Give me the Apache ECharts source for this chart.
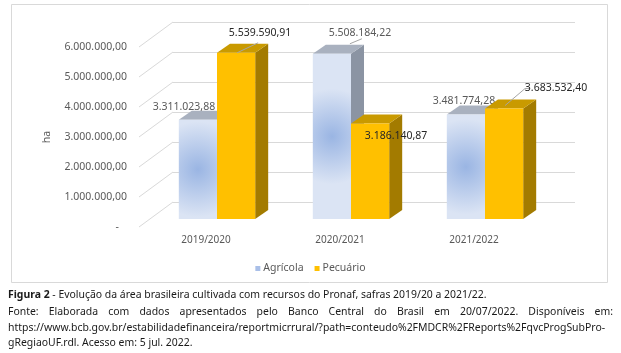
<!DOCTYPE html>
<html><head><meta charset="utf-8">
<script src="https://cdn.jsdelivr.net/npm/echarts@6/dist/echarts.min.js"></script>
<style>html,body{margin:0;padding:0;background:#fff}#c{width:621px;height:353px}</style>
</head><body><div id="c"></div>
<script>
// ---- data ----
const categories = ['2019/2020', '2020/2021', '2021/2022'];
const agricola = [3311023.88, 5508184.22, 3481774.28];
const pecuario = [5539590.91, 3186140.87, 3683532.40];
const yTicks = [0, 1000000, 2000000, 3000000, 4000000, 5000000, 6000000];
const seriesNames = ['Agrícola', 'Pecuário'];
const yAxisName = 'ha';
const captionBold = 'Figura 2';
const captionLine1 = ' - Evolução da área brasileira cultivada com recursos do Pronaf, safras 2019/20 a 2021/22.';
const captionLine2 = 'Fonte: Elaborada com dados apresentados pelo Banco Central do Brasil em 20/07/2022. Disponíveis em:';
const captionLine3 = 'https://www.bcb.gov.br/estabilidadefinanceira/reportmicrrural/?path=conteudo%2FMDCR%2FReports%2FqvcProgSubPro-';
const captionLine4 = 'gRegiaoUF.rdl. Acesso em: 5 jul. 2022.';

// ---- layout (not data) ----
const FONT = '"Noto Sans", sans-serif';
const WALL = [34, -25];      // depth vector of the whole plot box
const FRONT = [11, -8];      // bar front face offset
const DEPTH = [13, -9];      // bar depth
const BAR_RATIO = 0.285;
// per series, per category label offsets relative to bar front-top centre
const labelOff = [
  [[-14, -13], [28, -21], [-2, -14]],
  [[24, -20], [26, 13], [52, -20]]
];
// leader lines: null or [start offset from label centre, end offset from front-top centre]
const leaders = [
  [null, [[2, 6], [18, -10]], null],
  [[[-2, 10], [1, 0]], null, [[-31, 0], [1, -3]]]
];
const styles = [
  {legend: '#a9bfe8', top: '#a9b1bf', side: '#8b94a3', label: '#595959',
   front: {type: 'radial', x: 0.5, y: 0.5, r: 1.25, colorStops: [{offset: 0, color: '#9ab5e3'}, {offset: 1, color: '#dbe4f4'}]}},
  {legend: '#ffc000', top: '#c99a00', side: '#a37b00', label: '#262626', front: '#ffc000'}
];

function fmt(v) {
  const s = Math.abs(v).toFixed(2).split('.');
  return s[0].replace(/\B(?=(\d{3})+(?!\d))/g, '.') + ',' + s[1];
}

function barSeries(sIdx, values) {
  const st = styles[sIdx];
  return {
    type: 'custom', name: seriesNames[sIdx], xAxisIndex: 0, yAxisIndex: 0,
    itemStyle: {color: st.legend},
    data: values.map((v, i) => [i, v]),
    encode: {x: 0, y: 1},
    z: 3 + sIdx,
    renderItem(params, api) {
      const ci = api.value(0), v = api.value(1);
      const base = api.coord([ci, 0]), top = api.coord([ci, v]);
      const band = api.size([1, 0])[0];
      const w = band * BAR_RATIO;
      const x0 = base[0] + (sIdx === 0 ? -w : 0) + FRONT[0];
      const x1 = x0 + w;
      const yb = base[1] + FRONT[1], yt = top[1] + FRONT[1];
      const dx = DEPTH[0], dy = DEPTH[1];
      const children = [
        {type: 'polygon', shape: {points: [[x1, yt], [x1 + dx, yt + dy], [x1 + dx, yb + dy], [x1, yb]]}, style: {fill: st.side}},
        {type: 'polygon', shape: {points: [[x0, yt], [x1, yt], [x1 + dx, yt + dy], [x0 + dx, yt + dy]]}, style: {fill: st.top}},
        {type: 'rect', shape: {x: x0, y: yt, width: w, height: yb - yt}, style: {fill: st.front}}
      ];
      const cx = (x0 + x1) / 2;
      const off = labelOff[sIdx][ci];
      const lx = cx + off[0], ly = yt + off[1];
      const ld = leaders[sIdx][ci];
      if (ld) {
        const s = [lx + ld[0][0], ly + ld[0][1]], e = [cx + ld[1][0], yt + ld[1][1]];
        const pts = sIdx === 1 && ci === 2 ? [[s[0] + 5, s[1]], s, e] : [s, e];
        children.push({type: 'polyline', shape: {points: pts}, style: {stroke: '#a6a6a6', lineWidth: 1, fill: null}});
      }
      children.push({type: 'text', x: lx, y: ly, style: {text: fmt(v), fill: st.label, font: '10.5px ' + FONT, align: 'center', verticalAlign: 'middle'}});
      return {type: 'group', children};
    }
  };
}

const chart = echarts.init(document.getElementById('c'), null, {renderer: 'canvas'});

// caption measurement
const ctx = document.createElement('canvas').getContext('2d');
function tw(t, size, weight) { ctx.font = (weight || 'normal') + ' ' + size + 'px ' + FONT; return ctx.measureText(t).width; }
const capSize = Math.min(10.5, 10 * 479 / (tw(captionBold, 10, 'bold') + tw(captionLine1, 10)));
const capColor = '#1a1a1a';
const graphics = [
  {type: 'rect', shape: {x: 11.5, y: 4.5, width: 596, height: 278}, style: {fill: null, stroke: '#d9d9d9', lineWidth: 1}, z: -10, silent: true},
  {type: 'text', x: 8, y: 295, style: {text: '{b|' + captionBold + '}{n|' + captionLine1 + '}', verticalAlign: 'middle', rich: {b: {font: 'bold ' + capSize + 'px ' + FONT, fill: capColor}, n: {font: capSize + 'px ' + FONT, fill: capColor}}}}
];
// justified line 2
(function () {
  const words = captionLine2.split(' ');
  const widths = words.map(w => tw(w, capSize));
  const total = widths.reduce((a, b) => a + b, 0);
  const gap = (605 - total) / (words.length - 1);
  let x = 8;
  words.forEach((w, i) => {
    graphics.push({type: 'text', x: x, y: 312, style: {text: w, font: capSize + 'px ' + FONT, fill: capColor, verticalAlign: 'middle'}});
    x += widths[i] + gap;
  });
})();
graphics.push({type: 'text', x: 8, y: 328, style: {text: captionLine3, font: capSize + 'px ' + FONT, fill: capColor, verticalAlign: 'middle'}});
graphics.push({type: 'text', x: 8, y: 343, style: {text: captionLine4, font: capSize + 'px ' + FONT, fill: capColor, verticalAlign: 'middle'}});

const option = {
  animation: false,
  backgroundColor: '#ffffff',
  textStyle: {fontFamily: FONT},
  grid: [
    {left: 139, top: 47, width: 402, height: 180},
    {left: 139 + WALL[0], top: 47 + WALL[1], width: 402, height: 180}
  ],
  xAxis: [
    {type: 'category', gridIndex: 0, data: categories, axisLine: {show: false}, axisTick: {show: false},
     axisLabel: {margin: 8, fontSize: 10, color: '#595959', fontFamily: FONT}},
    {type: 'category', gridIndex: 1, data: categories, show: false}
  ],
  yAxis: [
    {type: 'value', gridIndex: 0, min: 0, max: 6000000, interval: 1000000,
     name: yAxisName, nameLocation: 'middle', nameGap: 86, nameRotate: 90,
     nameTextStyle: {fontSize: 10.5, color: '#595959', fontFamily: FONT},
     axisLine: {show: false}, axisTick: {show: false}, splitLine: {show: false},
     axisLabel: {margin: 12, fontSize: 10.5, color: '#595959', fontFamily: FONT,
       formatter: v => v === 0 ? '-   ' : fmt(v)}},
    {type: 'value', gridIndex: 1, min: 0, max: 6000000, interval: 1000000,
     axisLine: {show: false}, axisTick: {show: false}, axisLabel: {show: false},
     splitLine: {show: true, lineStyle: {color: '#d9d9d9', width: 1}}}
  ],
  legend: {data: seriesNames, top: 258, left: 'center', icon: 'rect', itemWidth: 5, itemHeight: 5, itemGap: 11,
    textStyle: {fontSize: 10.5, color: '#595959', fontFamily: FONT, padding: [0, 0, 0, -2]}},
  series: [
    {
      type: 'custom', name: 'walls', xAxisIndex: 0, yAxisIndex: 0, z: 1, silent: true,
      data: yTicks.map(v => [0, v]), encode: {x: 0, y: 1},
      renderItem(params, api) {
        const p = api.coord([0, api.value(1)]);
        const band = api.size([1, 0])[0];
        const xl = p[0] - band / 2;
        return {type: 'line', shape: {x1: xl, y1: p[1], x2: xl + WALL[0], y2: p[1] + WALL[1]}, style: {stroke: '#d9d9d9', lineWidth: 1}};
      }
    },
    barSeries(0, agricola),
    barSeries(1, pecuario)
  ],
  graphic: graphics
};
chart.setOption(option);
</script></body></html>
